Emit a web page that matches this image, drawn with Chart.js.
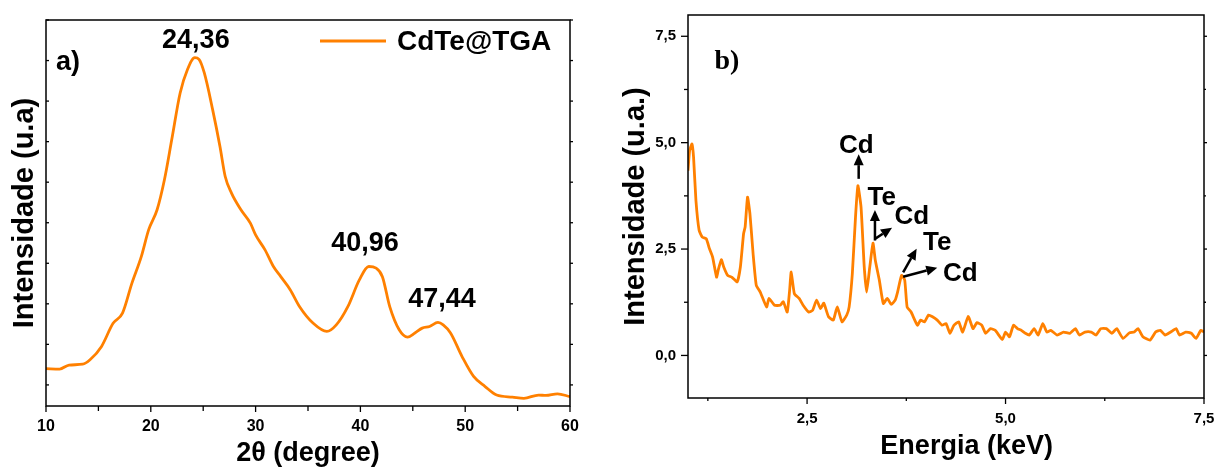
<!DOCTYPE html>
<html><head><meta charset="utf-8">
<script src="https://cdn.jsdelivr.net/npm/chart.js@4.4.0/dist/chart.umd.min.js"></script>
<style>
html,body{margin:0;padding:0;background:#fff;overflow:hidden;width:1216px;height:468px}
canvas{position:absolute;top:0}
#c1{left:0}#c2{left:610px}
</style></head>
<body>
<canvas id="c1" width="600" height="468"></canvas>
<canvas id="c2" width="606" height="468"></canvas>
<script>
// ---------- panel a) XRD ----------
const xrdAngle = [10.0,11.3,12.2,13.5,14.2,15.3,16.4,17.3,18.2,19.1,19.8,20.6,21.3,22.0,22.8,23.5,24.2,24.6,25.1,25.9,26.6,27.1,27.7,28.6,29.5,30.0,30.9,31.7,32.4,33.3,34.2,35.5,36.8,37.7,38.8,39.9,40.8,41.5,42.1,42.8,43.7,44.5,45.2,45.9,46.6,47.4,47.9,48.6,49.7,50.8,51.9,53.0,54.5,55.6,57.0,57.7,58.8,60.0];
const xrdIntensity = [0.40,0.39,0.49,0.51,0.62,0.95,1.52,1.77,2.51,3.17,3.83,4.32,5.06,6.05,7.20,7.78,8.07,8.03,7.70,6.79,5.88,5.14,4.73,4.32,3.99,3.70,3.33,2.92,2.67,2.35,1.93,1.52,1.32,1.48,1.93,2.59,2.92,2.88,2.67,1.93,1.36,1.18,1.28,1.40,1.44,1.54,1.48,1.28,0.70,0.21,-0.04,-0.25,-0.30,-0.33,-0.25,-0.26,-0.22,-0.29];
const xrdTicks = [10,20,30,40,50,60];
const xrdPeakLabels = ['24,36','40,96','47,44'];
const xrdPeakLabelX = [24.3,40.44,47.78];
const xrdPeakLabelY = [8.49,3.48,2.10];
const xrdSeriesName = 'CdTe@TGA';

// ---------- panel b) EDS ----------
const edsEnergy = [1.00,1.02,1.05,1.07,1.10,1.14,1.18,1.23,1.27,1.31,1.36,1.38,1.42,1.45,1.50,1.55,1.62,1.66,1.70,1.72,1.75,1.78,1.82,1.86,1.91,1.99,2.02,2.09,2.16,2.20,2.25,2.28,2.30,2.34,2.40,2.45,2.52,2.57,2.62,2.67,2.71,2.77,2.83,2.88,2.94,3.00,3.03,3.07,3.11,3.14,3.18,3.22,3.25,3.29,3.33,3.36,3.41,3.46,3.51,3.56,3.61,3.64,3.69,3.73,3.76,3.81,3.89,3.93,3.98,4.03,4.08,4.14,4.20,4.25,4.30,4.35,4.41,4.46,4.53,4.59,4.64,4.70,4.75,4.81,4.87,4.96,5.00,5.05,5.10,5.15,5.20,5.25,5.30,5.36,5.41,5.47,5.52,5.57,5.65,5.73,5.81,5.88,5.93,6.00,6.08,6.14,6.20,6.27,6.34,6.40,6.48,6.56,6.62,6.67,6.73,6.82,6.89,6.95,7.01,7.08,7.15,7.19,7.27,7.34,7.40,7.46,7.50];
const edsIntensity = [4.34,4.81,4.97,4.66,3.64,2.94,2.78,2.74,2.51,2.31,1.84,2.00,2.25,2.08,1.88,1.84,1.73,2.08,2.86,3.02,3.72,3.33,2.39,1.65,1.49,1.14,1.34,1.18,1.18,1.26,1.02,1.53,1.96,1.45,1.34,1.18,1.02,1.06,1.30,1.10,1.23,0.91,0.83,1.14,0.79,0.95,1.14,1.92,3.25,3.99,3.48,2.08,1.49,2.08,2.64,2.23,1.77,1.22,1.34,1.20,1.30,1.49,1.88,1.77,1.14,1.02,0.71,0.83,0.79,0.95,0.91,0.83,0.71,0.75,0.52,0.71,0.79,0.55,0.92,0.63,0.77,0.71,0.52,0.63,0.59,0.375,0.55,0.44,0.71,0.63,0.59,0.52,0.48,0.63,0.48,0.75,0.55,0.59,0.48,0.55,0.52,0.63,0.48,0.55,0.55,0.48,0.63,0.63,0.52,0.63,0.40,0.53,0.55,0.63,0.44,0.36,0.55,0.59,0.48,0.55,0.63,0.48,0.55,0.52,0.40,0.59,0.55];
const edsXTicks = [2.5,5.0,7.5];
const edsYTicks = [0,2.5,5.0,7.5];
const edsLabels = ['Cd','Te','Cd','Te','Cd'];
const edsLabelE = [3.12,3.44,3.82,4.14,4.43];
const edsLabelI = [4.92,3.70,3.26,2.65,1.92];
const edsArrowFromE = [3.15,3.355,3.355,3.71,3.71];
const edsArrowFromI = [4.15,2.70,2.74,1.95,1.85];
const edsArrowToE = [3.15,3.355,3.57,3.88,4.14];
const edsArrowToI = [4.73,3.42,3.00,2.51,2.06];

const SANS = "'Liberation Sans', Arial, sans-serif";
const ORANGE = '#ff8000';
const comma = v => Number(v).toFixed(1).replace('.', ',');

function arrow(ctx, x1, y1, x2, y2) {
  const ang = Math.atan2(y2 - y1, x2 - x1);
  const hl = 11, hw = 5;
  const bx = x2 - hl * Math.cos(ang), by = y2 - hl * Math.sin(ang);
  ctx.save();
  ctx.strokeStyle = '#000'; ctx.fillStyle = '#000'; ctx.lineWidth = 2.5;
  ctx.beginPath(); ctx.moveTo(x1, y1); ctx.lineTo(bx, by); ctx.stroke();
  ctx.beginPath();
  ctx.moveTo(x2, y2);
  ctx.lineTo(bx + hw * Math.sin(ang), by - hw * Math.cos(ang));
  ctx.lineTo(bx - hw * Math.sin(ang), by + hw * Math.cos(ang));
  ctx.closePath(); ctx.fill();
  ctx.restore();
}
function text(ctx, s, x, y, font, align) {
  ctx.save();
  ctx.fillStyle = '#000'; ctx.font = font;
  ctx.textAlign = align || 'center'; ctx.textBaseline = 'middle';
  ctx.fillText(s, x, y);
  ctx.restore();
}
function frame(ctx, a) {
  ctx.save();
  ctx.strokeStyle = '#000'; ctx.lineWidth = 1.5;
  ctx.strokeRect(a.left, a.top, a.right - a.left, a.bottom - a.top);
  ctx.restore();
}
function tick(ctx, x1, y1, x2, y2) {
  ctx.save(); ctx.strokeStyle = '#000'; ctx.lineWidth = 1.3;
  ctx.beginPath(); ctx.moveTo(x1, y1); ctx.lineTo(x2, y2); ctx.stroke(); ctx.restore();
}
function noOverhang(s) { s.paddingLeft = 0; s.paddingRight = 0; s.paddingTop = 0; s.paddingBottom = 0; }

// ----- chart a -----
const xrdPlugin = {
  id: 'xrdDecor',
  afterDraw(chart) {
    const {ctx, chartArea: a, scales: {x, y}} = chart;
    frame(ctx, a);
    for (let v = 10; v <= 60; v += 5) {
      const px = x.getPixelForValue(v);
      tick(ctx, px, a.bottom, px, a.bottom + (v % 10 === 0 ? 6 : 5));
    }
    for (let v = 0; v <= 9; v++) {
      const py = y.getPixelForValue(v);
      tick(ctx, a.left, py, a.left + 3, py);
      tick(ctx, a.right, py, a.right + 3, py);
    }
    const f = 'bold 27px ' + SANS;
    xrdPeakLabels.forEach((s, i) => text(ctx, s, x.getPixelForValue(xrdPeakLabelX[i]), y.getPixelForValue(xrdPeakLabelY[i]), f));
    text(ctx, 'a)', x.getPixelForValue(12.1), y.getPixelForValue(7.95), 'bold 27px ' + SANS);
    // legend
    const ly = a.top + 21;
    ctx.save(); ctx.strokeStyle = ORANGE; ctx.lineWidth = 3;
    ctx.beginPath(); ctx.moveTo(a.left + 274, ly); ctx.lineTo(a.left + 340, ly); ctx.stroke(); ctx.restore();
    text(ctx, xrdSeriesName, a.left + 351, ly + 1, 'bold 28px ' + SANS, 'left');
  }
};

new Chart(document.getElementById('c1'), {
  type: 'line',
  data: {
    datasets: [{
      label: xrdSeriesName,
      data: xrdAngle.map((v, i) => ({x: v, y: xrdIntensity[i]})),
      borderColor: ORANGE, borderWidth: 2.8, pointRadius: 0,
      cubicInterpolationMode: 'monotone', fill: false
    }]
  },
  options: {
    responsive: false, animation: false,
    layout: {padding: {top: 20, right: 30, left: 0, bottom: 0}},
    plugins: {legend: {display: false}, tooltip: {enabled: false}},
    scales: {
      x: {
        type: 'linear', min: 10, max: 60,
        afterBuildTicks: s => { s.ticks = xrdTicks.map(v => ({value: v})); },
        afterFit: s => { s.height = 62; noOverhang(s); },
        grid: {display: false, drawTicks: false}, border: {display: false},
        ticks: {color: '#000', font: {family: SANS, size: 16, weight: 'bold'}, padding: 11, maxRotation: 0,
                callback: v => String(v)},
        title: {display: true, text: '2θ (degree)', color: '#000',
                font: {family: SANS, size: 27, weight: 'bold', lineHeight: 1}, padding: {top: 0, bottom: 0.5}}
      },
      y: {
        type: 'linear', min: -0.52, max: 9.0,
        afterFit: s => { s.width = 46; noOverhang(s); },
        grid: {display: false, drawTicks: false}, border: {display: false},
        ticks: {display: false},
        title: {display: true, text: 'Intensidade (u.a)', color: '#000',
                font: {family: SANS, size: 29, weight: 'bold', lineHeight: 1}, padding: {top: 10.5, bottom: 0}}
      }
    }
  },
  plugins: [xrdPlugin]
});

// ----- chart b -----
const edsPlugin = {
  id: 'edsDecor',
  afterDraw(chart) {
    const {ctx, chartArea: a, scales: {x, y}} = chart;
    frame(ctx, a);
    for (let v = 1.25; v <= 7.5 + 1e-9; v += 1.25) {
      const px = x.getPixelForValue(v);
      const major = Math.abs(v / 2.5 - Math.round(v / 2.5)) < 1e-6;
      tick(ctx, px, a.bottom, px, a.bottom + (major ? 6 : 3));
    }
    for (let v = -1.25; v <= 7.5 + 1e-9; v += 1.25) {
      if (v < -1) continue;
      const py = y.getPixelForValue(v);
      const major = Math.abs(v / 2.5 - Math.round(v / 2.5)) < 1e-6;
      tick(ctx, a.left - (major ? 7 : 4), py, a.left, py);
      tick(ctx, a.right, py, a.right + (major ? 3 : 2), py);
    }
    const f = 'bold 26px ' + SANS;
    for (let i = 0; i < edsLabels.length; i++) {
      arrow(ctx, x.getPixelForValue(edsArrowFromE[i]), y.getPixelForValue(edsArrowFromI[i]),
                 x.getPixelForValue(edsArrowToE[i]), y.getPixelForValue(edsArrowToI[i]));
      text(ctx, edsLabels[i], x.getPixelForValue(edsLabelE[i]), y.getPixelForValue(edsLabelI[i]), f);
    }
    text(ctx, 'b)', x.getPixelForValue(1.49), y.getPixelForValue(6.91), "bold 28px 'Liberation Serif', 'Times New Roman', serif");
    // x-axis title
    text(ctx, 'Energia (keV)', x.getPixelForValue(4.51), a.bottom + 49, 'bold 27px ' + SANS);
  }
};

new Chart(document.getElementById('c2'), {
  type: 'line',
  data: {
    datasets: [{
      label: 'EDS',
      data: edsEnergy.map((v, i) => ({x: v, y: edsIntensity[i]})),
      borderColor: ORANGE, borderWidth: 2.8, pointRadius: 0, tension: 0.15, fill: false
    }]
  },
  options: {
    responsive: false, animation: false,
    layout: {padding: {top: 15, right: 12, left: 0, bottom: 0}},
    plugins: {legend: {display: false}, tooltip: {enabled: false}},
    scales: {
      x: {
        type: 'linear', min: 1.0, max: 7.5,
        afterBuildTicks: s => { s.ticks = edsXTicks.map(v => ({value: v})); },
        afterFit: s => { s.height = 70; noOverhang(s); },
        grid: {display: false, drawTicks: false}, border: {display: false},
        ticks: {color: '#000', font: {family: SANS, size: 15, weight: 'bold'}, padding: 12, maxRotation: 0,
                callback: v => comma(v)}
      },
      y: {
        type: 'linear', min: -1, max: 8,
        afterBuildTicks: s => { s.ticks = edsYTicks.map(v => ({value: v})); },
        afterFit: s => { s.width = 78; noOverhang(s); },
        grid: {display: false, drawTicks: false}, border: {display: false},
        ticks: {color: '#000', font: {family: SANS, size: 15, weight: 'bold'}, padding: 12,
                callback: v => comma(v)},
        title: {display: true, text: 'Intensidade (u.a.)', color: '#000',
                font: {family: SANS, size: 29, weight: 'bold', lineHeight: 1}, padding: {top: 11.5, bottom: 0}}
      }
    }
  },
  plugins: [edsPlugin]
});
</script>
</body></html>
